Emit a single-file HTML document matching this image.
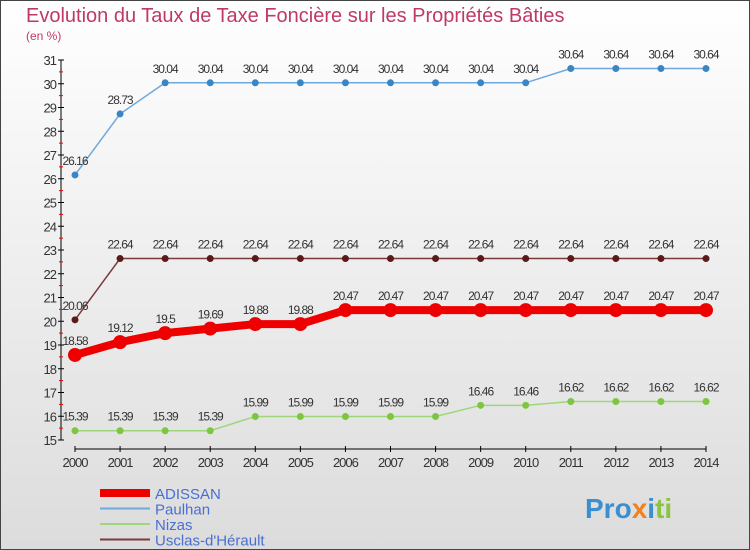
<!DOCTYPE html>
<html><head><meta charset="utf-8"><style>
body{margin:0;width:750px;height:550px;overflow:hidden;font-family:"Liberation Sans",sans-serif}
svg{display:block}
</style></head><body>
<svg width="750" height="550" xmlns="http://www.w3.org/2000/svg">
<defs><linearGradient id="bg" x1="0" y1="0" x2="0" y2="1"><stop offset="0" stop-color="#ffffff"/><stop offset="1" stop-color="#dcdcdc"/></linearGradient></defs>
<rect x="0.5" y="0.5" width="749" height="549" fill="url(#bg)" stroke="#444"/>
<text x="26" y="22" font-size="20" fill="#c0386a">Evolution du Taux de Taxe Foncière sur les Propriétés Bâties</text>
<text x="26" y="40" font-size="12" fill="#c0386a">(en %)</text>
<g id="axes"></g>
<g id="series"></g>
<g id="legend"></g>
<text x="585" y="518" font-size="28" font-weight="bold" fill="#3a8fd0">Pro<tspan fill="#f08020">x</tspan>i<tspan fill="#8bc43f">ti</tspan></text>
</svg>
<script>
const years=[2000,2001,2002,2003,2004,2005,2006,2007,2008,2009,2010,2011,2012,2013,2014];
const yTicks=[15,16,17,18,19,20,21,22,23,24,25,26,27,28,29,30,31];
const adissan=[18.58,19.12,19.5,19.69,19.88,19.88,20.47,20.47,20.47,20.47,20.47,20.47,20.47,20.47,20.47];
const paulhan=[26.16,28.73,30.04,30.04,30.04,30.04,30.04,30.04,30.04,30.04,30.04,30.64,30.64,30.64,30.64];
const nizas=[15.39,15.39,15.39,15.39,15.99,15.99,15.99,15.99,15.99,16.46,16.46,16.62,16.62,16.62,16.62];
const usclas=[20.06,22.64,22.64,22.64,22.64,22.64,22.64,22.64,22.64,22.64,22.64,22.64,22.64,22.64,22.64];
const NS="http://www.w3.org/2000/svg";
const x=i=>75+i*(706-75)/14;
const y=v=>440-(v-15)*23.75;
function mk(t,a,p){const e=document.createElementNS(NS,t);for(const k in a)e.setAttribute(k,a[k]);p.appendChild(e);return e;}
const ax=document.getElementById('axes');
let l=mk('line',{x1:61,y1:60,x2:61,y2:440,stroke:'#000'},ax);


l=mk('line',{x1:75,y1:449,x2:706,y2:449,stroke:'#000'},ax);


yTicks.forEach(v=>{
 mk('line',{x1:58,y1:y(v),x2:64,y2:y(v),stroke:'#000'},ax);
 if(v<31)mk('line',{x1:59,y1:y(v+0.5),x2:63,y2:y(v+0.5),stroke:'#e00'},ax);
 const t=mk('text',{x:56,y:y(v)+5,'font-size':13,'text-anchor':'end',fill:'#333','letter-spacing':'-1'},ax);
 t.textContent=v;
 
 
});
years.forEach((yr,i)=>{
 mk('line',{x1:x(i),y1:446,x2:x(i),y2:452,stroke:'#000'},ax);
 const t=mk('text',{x:x(i),y:467,'font-size':13,'text-anchor':'middle',fill:'#333','letter-spacing':'-1'},ax);
 t.textContent=yr;
 
 
});
const sg=document.getElementById('series');
function series(name,vals,color,w,r,dot){
 const g=mk('g',{},sg);
 
 
 mk('polyline',{points:vals.map((v,i)=>x(i)+','+y(v)).join(' '),fill:'none',stroke:color,'stroke-width':w},g);
 vals.forEach((v,i)=>{
  const c=mk('circle',{cx:x(i),cy:y(v),r:r,fill:dot},g);
  
  
  const t=mk('text',{x:x(i),y:y(v)-10,'font-size':12,'text-anchor':'middle',fill:'#333','letter-spacing':'-1'},g);
  t.textContent=v;
  
  
 });
}
series('paulhan',paulhan,'#6fa8dc',1.5,3.5,'#3a85c4');
series('usclas',usclas,'#7a3b3b',1.5,3.5,'#5a1a1a');
series('nizas',nizas,'#9ed77a',1.5,3.5,'#7cc640');
series('adissan',adissan,'#ee0000',8,7,'#ee0000');
const lg=document.getElementById('legend');
const items=[['ADISSAN','#ee0000',8],['Paulhan','#6fa8dc',2],['Nizas','#9ed77a',2],["Usclas-d'Hérault",'#7a3b3b',2]];
items.forEach((it,k)=>{
 const yy=493+k*15.5;
 const g=mk('g',{},lg);
 
 
 mk('line',{x1:100,y1:yy,x2:150,y2:yy,stroke:it[1],'stroke-width':it[2]},g);
 const t=mk('text',{x:155,y:yy+6,'font-size':15,fill:'#4a6fd0'},g);
 t.textContent=it[0];
});
</script>
</body></html>
